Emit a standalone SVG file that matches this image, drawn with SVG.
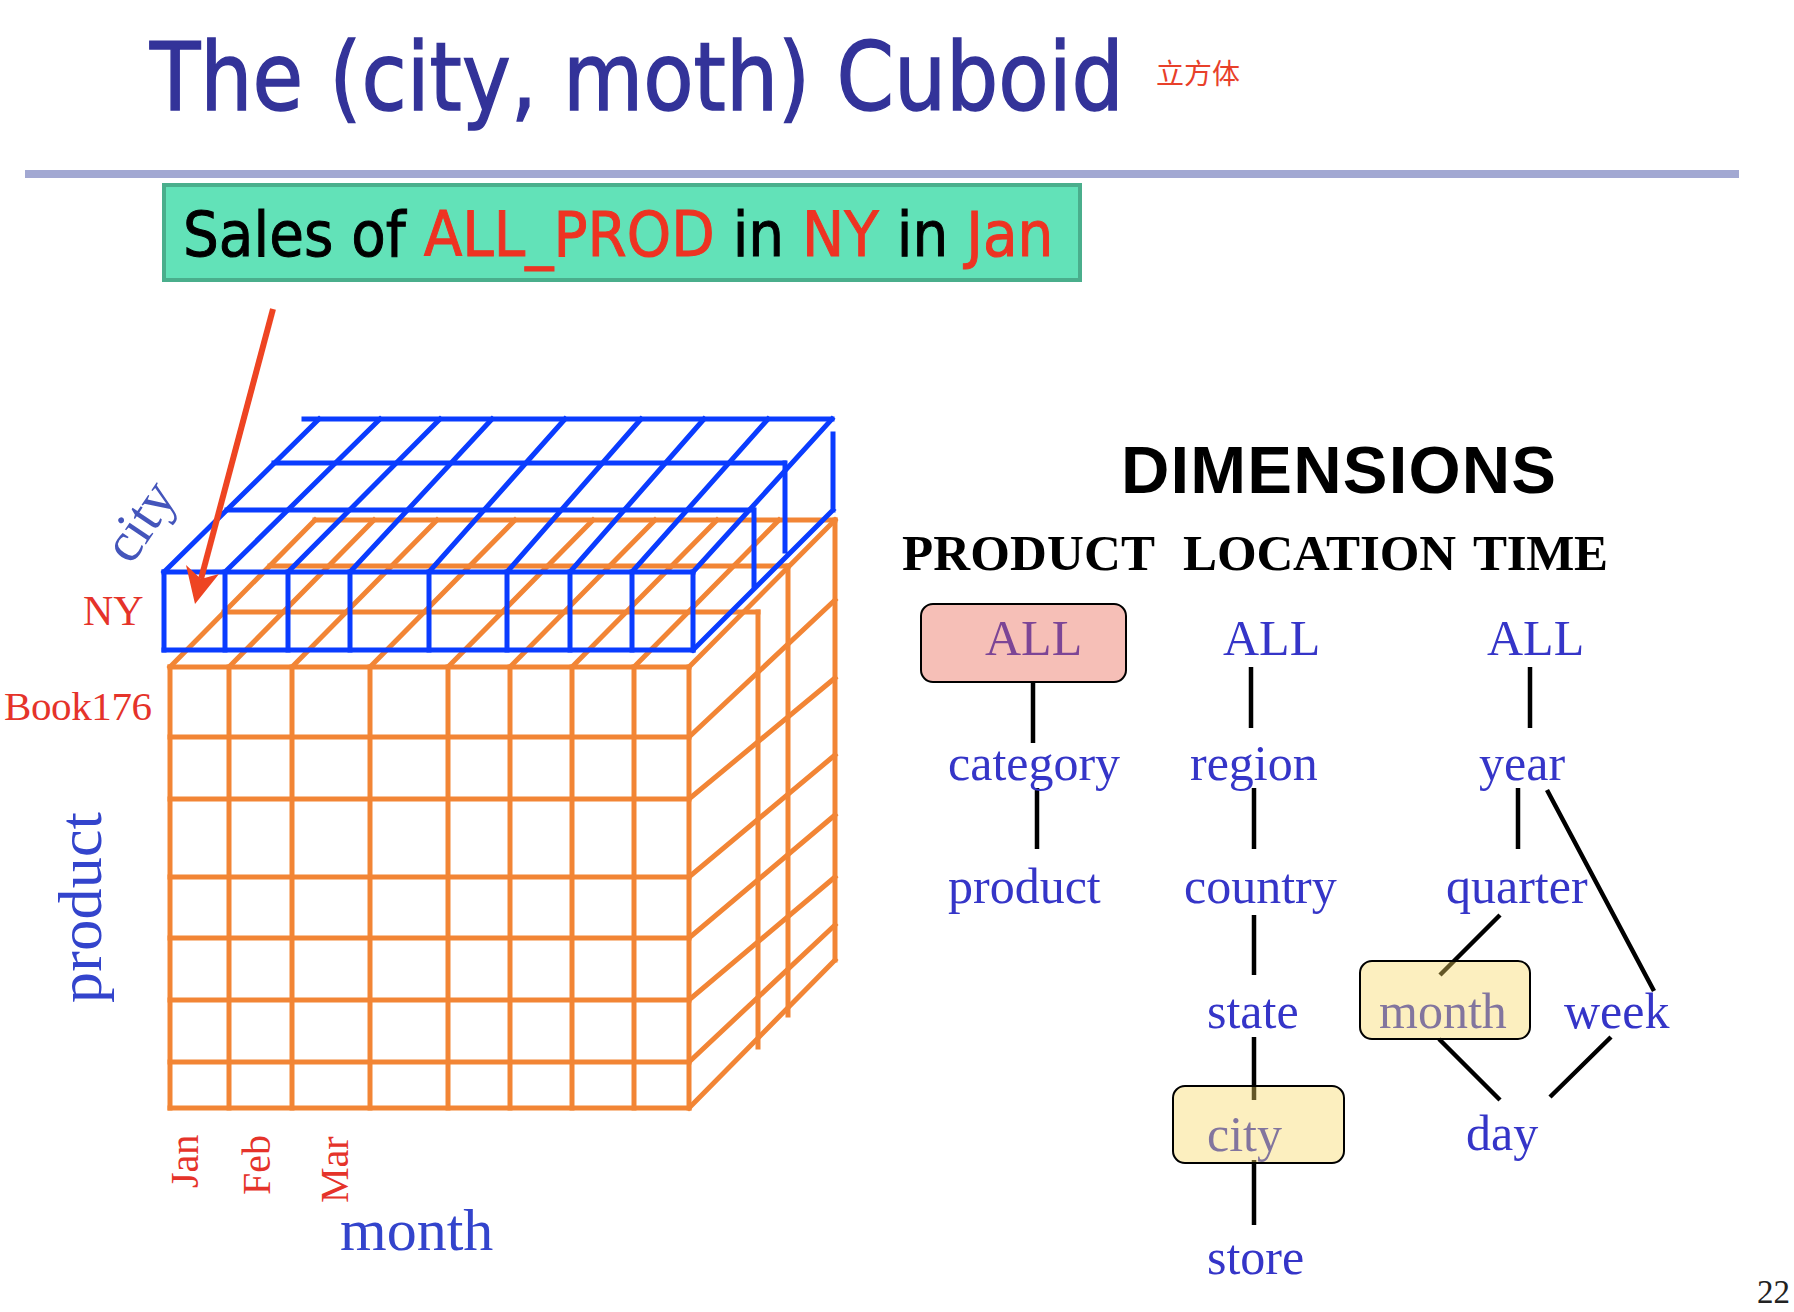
<svg xmlns="http://www.w3.org/2000/svg" width="1794" height="1312" viewBox="0 0 1794 1312">
<style>
.ser{font-family:"Liberation Serif","Times New Roman",serif}
.san{font-family:"DejaVu Sans","Verdana",sans-serif}
.lbl{font-family:"Liberation Serif","Times New Roman",serif;font-size:50px;fill:#3535c8}
.red{fill:#e5332a}
.hl{fill:#ee3322;stroke:#ee3322}
.o{stroke:#f28535;stroke-width:5;fill:none;stroke-linecap:square}
.b{stroke:#0a3cff;stroke-width:5;fill:none;stroke-linecap:square}
.con{stroke:#000;stroke-width:4.5;fill:none}
.box{stroke:#000;stroke-width:2}
</style>
<rect width="1794" height="1312" fill="#fff"/>

<g id="title">
<text class="san" transform="translate(150,110) scale(0.867,1)" font-size="95" fill="#333399" stroke="#333399" stroke-width="1.5">The (city, moth) Cuboid</text>
<text x="1156" y="84" font-size="28" fill="#e8402a" font-family="Noto Sans CJK SC, sans-serif">立方体</text>
<rect x="25" y="170" width="1714" height="8" fill="#a2a8d2"/>
</g>

<g id="callout">
<rect x="164" y="185" width="916" height="95" fill="#62e2b8" stroke="#4aae8c" stroke-width="4"/>
<text class="san" transform="translate(183,256) scale(0.911,1)" font-size="62" fill="#000" stroke="#000" stroke-width="1">Sales of <tspan class="hl">ALL_PROD</tspan> in <tspan class="hl">NY</tspan> in <tspan class="hl">Jan</tspan></text>
</g>

<g id="cube-orange">
<path class="o" d="M170 667V1108M229 667V1108M292 667V1108M370 667V1108M448 667V1108M510 667V1108M572 667V1108M634 667V1108M689 667V1108"/>
<path class="o" d="M170 667H689M170 737H689M170 799H689M170 877H689M170 938H689M170 1000H689M170 1062H689M170 1108H689"/>
<path class="o" d="M315 520H835M270 566H788M224 612H758"/>
<path class="o" d="M170 667L315 520M229 667L374 520M292 667L437 520M370 667L515 520M448 667L593 520M510 667L655 520M572 667L717 520M634 667L779 520M689 667L835 520"/>
<path class="o" d="M758 612V1047M788 566V1015M835 520V960"/>
<path class="o" d="M689 737L835 600M689 799L835 678M689 877L835 755M689 938L835 815M689 1000L835 877M689 1062L835 925M689 1108L835 960"/>
</g>

<g id="cube-blue">
<path class="b" d="M164 572V650M225 572V650M288 572V650M350 572V650M429 572V650M507 572V650M570 572V650M632 572V650M693 572V650"/>
<path class="b" d="M164 572H693M164 650H693"/>
<path class="b" d="M304 419H832M274 463H784M227 510H753"/>
<path class="b" d="M164 572L319 419M225 572L380 419M288 572L440 419M350 572L492 419M429 572L565 419M507 572L641 419M570 572L704 419M632 572L768 419M693 572L832 419"/>
<path class="b" d="M693 650L833 510M754 510V586M785 463V551M833 434V510"/>
</g>

<g id="arrow">
<line x1="273" y1="309" x2="201" y2="579" stroke="#ee4422" stroke-width="6"/>
<polygon points="195,604 186,565 201,579 219,574" fill="#ee4422"/>
</g>

<g id="axis-labels">
<text class="ser" transform="translate(144,524) rotate(-56)" x="0" y="13" text-anchor="middle" font-size="56" fill="#4455bb">city</text>
<text class="ser red" x="83" y="625" font-size="42">NY</text>
<text class="ser red" x="4" y="720" font-size="41" textLength="148">Book176</text>
<text class="ser" transform="translate(101,1003) rotate(-90)" font-size="62" fill="#3344cc" textLength="191">product</text>
<text class="ser red" transform="translate(198,1188) rotate(-90)" font-size="40">Jan</text>
<text class="ser red" transform="translate(270,1195) rotate(-90)" font-size="40">Feb</text>
<text class="ser red" transform="translate(348,1203) rotate(-90)" font-size="40">Mar</text>
<text class="ser" x="340" y="1250" font-size="60" fill="#3344cc">month</text>
</g>

<g id="headers">
<text x="1121" y="493" font-family="Liberation Sans, Arial, sans-serif" font-weight="bold" font-size="67" fill="#000" textLength="435">DIMENSIONS</text>
<text class="ser" y="570" font-weight="bold" font-size="51" fill="#000"><tspan x="902" textLength="252">PRODUCT</tspan> <tspan x="1183" textLength="273">LOCATION</tspan> <tspan x="1473" textLength="135">TIME</tspan></text>
</g>

<g id="connectors">
<path class="con" d="M1033 682V743M1037 788V849"/>
<path class="con" d="M1251 667V728M1254 788V849M1254 915V975M1254 1037V1100M1254 1160V1225"/>
<path class="con" d="M1530 667V728M1518 788V849M1547 790L1654 991M1500 915L1440 975M1439 1039L1500 1100M1611 1037L1550 1097"/>
</g>

<g id="node-all-product">
<text class="lbl" x="985" y="655">ALL</text>
<rect class="box" x="921" y="604" width="205" height="78" rx="12" fill="#e8604c" fill-opacity="0.4"/>
</g>
<g id="node-category"><text class="lbl" x="948" y="780">category</text></g>
<g id="node-product"><text class="lbl" x="948" y="903">product</text></g>

<g id="node-all-location"><text class="lbl" x="1223" y="655">ALL</text></g>
<g id="node-region"><text class="lbl" x="1190" y="780">region</text></g>
<g id="node-country"><text class="lbl" x="1184" y="903">country</text></g>
<g id="node-state"><text class="lbl" x="1207" y="1028">state</text></g>
<g id="node-city">
<text class="lbl" x="1207" y="1151">city</text>
<rect class="box" x="1173" y="1086" width="171" height="77" rx="12" fill="#f8d860" fill-opacity="0.4"/>
</g>
<g id="node-store"><text class="lbl" x="1207" y="1274">store</text></g>

<g id="node-all-time"><text class="lbl" x="1487" y="655">ALL</text></g>
<g id="node-year"><text class="lbl" x="1479" y="780">year</text></g>
<g id="node-quarter"><text class="lbl" x="1446" y="903">quarter</text></g>
<g id="node-month">
<text class="lbl" x="1379" y="1028">month</text>
<rect class="box" x="1360" y="961" width="170" height="78" rx="12" fill="#f8d860" fill-opacity="0.4"/>
</g>
<g id="node-week"><text class="lbl" x="1564" y="1028">week</text></g>
<g id="node-day"><text class="lbl" x="1466" y="1150">day</text></g>

<text class="ser" x="1790" y="1303" text-anchor="end" font-size="33" fill="#222">22</text>
</svg>
